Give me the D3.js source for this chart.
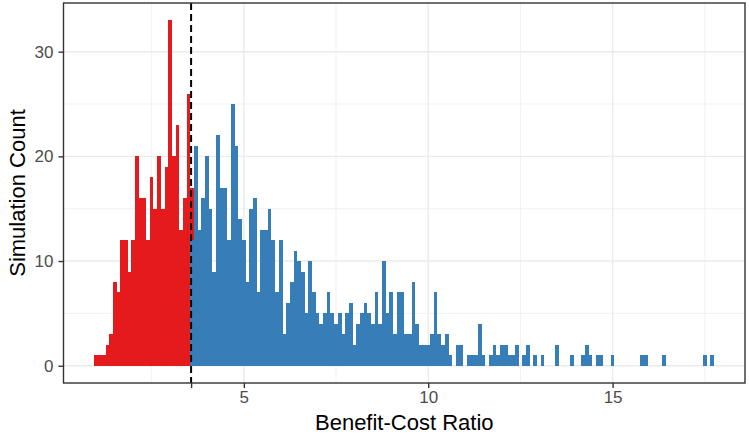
<!DOCTYPE html>
<html>
<head>
<meta charset="utf-8">
<script src="https://cdn.jsdelivr.net/npm/d3@7"></script>
<style>
  body { margin: 0; background: #fff; }
  svg { display: block; font-family: "Liberation Sans", Arial, sans-serif; }
</style>
</head>
<body>
<svg id="chart" width="749" height="439"></svg>
<script>
// histogram bins: width 0.1, first bin starts at 0.95
var firstBin = 0.95;
var binWidth = 0.1;
var threshold = 3.57;

// red = below threshold (bins 0..26, last one is the part of the split bin)
var redCounts = [1,1,1,2,3,8,7,12,12,9,12,20,16,16,12,18,15,20,15,19,33,20,23,13,16,26,5];
// blue = above threshold, starting at bin 26
var blueStart = 26;
var blueCounts = [12,
  21,13,16,20,15,9,22,17,17,12,25,21,14,12,8,15,16,7,13,13,15,12,7,12,3,
  6,8,11,10,9,5,10,7,5,4,5,7,5,4,5,3,5,6,2,4,5,6,5,4,7,4,10,5,
  7,3,7,7,3,3,8,4,2,2,2,3,7,3,2,3,1,0,2,2,0,1,1,1,4,1,0,
  1,2,1,2,2,1,1,2,0,1,2,0,1,0,1,0,0,0,2,0,0,0,1,0,0,1,2,1,0,1,
  1,0,0,1,0,0,0,0,0,0,0,1,1,0,0,0,0,1,0,0,0,0,0,0,0,0,0,0,1,0,1];

var xTicks = [5, 10, 15];
var xMinor = [2.5, 7.5, 12.5, 17.5];
var yTicks = [0, 10, 20, 30];
var yMinor = [5, 15, 25];

var red = "#E41A1C", blue = "#377EB8";

var svg = d3.select("#chart");
var m = { left: 63.5, right: 745, top: 3, bottom: 383 };

// build bar records
var bars = [];
redCounts.forEach(function(c, i){
  var base = (i === blueStart) ? blueCounts[0] : 0;
  if (c > 0) bars.push({ bin: i, y0: base, y1: base + c, fill: red });
});
blueCounts.forEach(function(c, j){
  if (c > 0) bars.push({ bin: blueStart + j, y0: 0, y1: c, fill: blue });
});

var nBins = blueStart + blueCounts.length;
var xLo = firstBin, xHi = firstBin + nBins * binWidth;
var xPad = (xHi - xLo) * 0.05;
var yMax = d3.max(bars, function(d){ return d.y1; });

var x = d3.scaleLinear().domain([xLo - xPad, xHi + xPad]).range([m.left, m.right]);
var y = d3.scaleLinear().domain([-yMax * 0.05, yMax * 1.05]).range([m.bottom, m.top]);

// grid
var grid = svg.append("g").attr("stroke", "#EBEBEB");
grid.selectAll(".xm").data(xMinor).enter().append("line")
  .attr("x1", x).attr("x2", x).attr("y1", m.top).attr("y2", m.bottom).attr("stroke-width", 0.7);
grid.selectAll(".ym").data(yMinor).enter().append("line")
  .attr("y1", y).attr("y2", y).attr("x1", m.left).attr("x2", m.right).attr("stroke-width", 0.7);
grid.selectAll(".xM").data(xTicks).enter().append("line")
  .attr("x1", x).attr("x2", x).attr("y1", m.top).attr("y2", m.bottom).attr("stroke-width", 1.4);
grid.selectAll(".yM").data(yTicks).enter().append("line")
  .attr("y1", y).attr("y2", y).attr("x1", m.left).attr("x2", m.right).attr("stroke-width", 1.4);

// bars
svg.append("g").selectAll("rect").data(bars).enter().append("rect")
  .attr("x", function(d){ return x(firstBin + d.bin * binWidth); })
  .attr("width", function(d){ return x(firstBin + (d.bin + 1) * binWidth) - x(firstBin + d.bin * binWidth); })
  .attr("y", function(d){ return y(d.y1); })
  .attr("height", function(d){ return y(d.y0) - y(d.y1); })
  .attr("fill", function(d){ return d.fill; })
  .attr("shape-rendering", "crispEdges");

// threshold line
svg.append("line")
  .attr("x1", x(threshold)).attr("x2", x(threshold))
  .attr("y1", m.top).attr("y2", m.bottom)
  .attr("stroke", "#000").attr("stroke-width", 2)
  .attr("stroke-dasharray", "7,4");

// panel border
svg.append("rect")
  .attr("x", m.left).attr("y", m.top)
  .attr("width", m.right - m.left).attr("height", m.bottom - m.top)
  .attr("fill", "none").attr("stroke", "#333333").attr("stroke-width", 1.4);

// axes
var xAxis = svg.append("g").attr("transform", "translate(0," + m.bottom + ")")
  .call(d3.axisBottom(x).tickValues([threshold].concat(xTicks))
    .tickFormat(function(d){ return d === threshold ? "" : d; })
    .tickSize(5).tickPadding(3));
var yAxis = svg.append("g").attr("transform", "translate(" + m.left + ",0)")
  .call(d3.axisLeft(y).tickValues(yTicks).tickSize(5).tickPadding(5));

[xAxis, yAxis].forEach(function(a){
  a.select(".domain").remove();
  a.selectAll(".tick line").attr("stroke", "#333333").attr("stroke-width", 1.4);
  a.selectAll(".tick text").attr("fill", "#4D4D4D").style("font-size", "17px")
    .style("font-family", "'Liberation Sans', Arial, sans-serif");
});

// titles
svg.append("text")
  .attr("x", (m.left + m.right) / 2).attr("y", 430)
  .attr("text-anchor", "middle").style("font-size", "22px").attr("fill", "#000")
  .text("Benefit-Cost Ratio");
svg.append("text")
  .attr("transform", "translate(25," + ((m.top + m.bottom) / 2) + ") rotate(-90)")
  .attr("text-anchor", "middle").style("font-size", "22px").attr("fill", "#000")
  .text("Simulation Count");
</script>
</body>
</html>
